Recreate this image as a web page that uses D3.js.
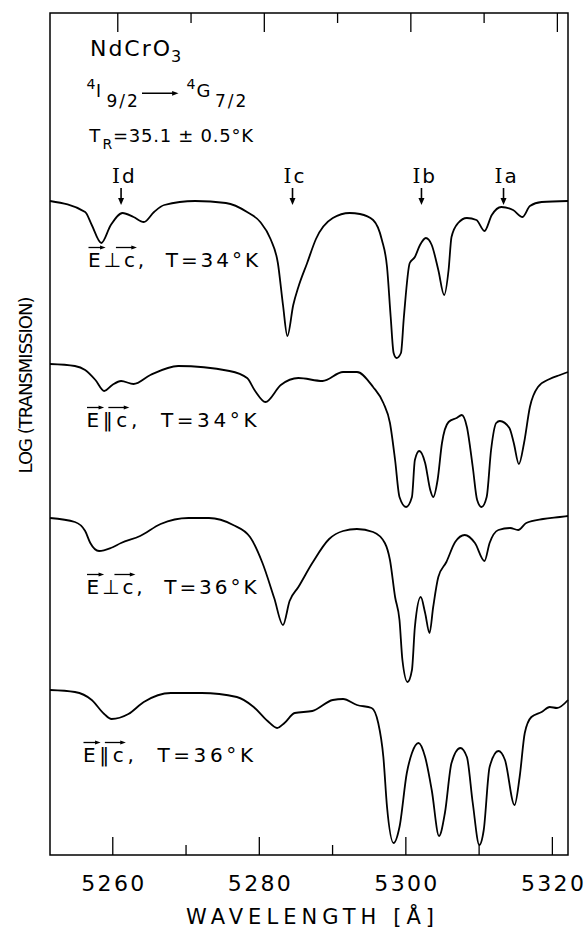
<html>
  <head>
    <style>
    body {
      margin: 0;
      background: #fff;
    }
    text {
      font-family: "DejaVu Sans", sans-serif;
      fill: #000;
    }
    .curve {
      fill: none;
      stroke: #000;
      stroke-width: 1.8;
      stroke-linejoin: round;
    }
    .tick line {
      stroke: #000;
      stroke-width: 1.3;
    }
    </style>
  </head>
  <body>
    <script src="https://d3js.org/d3.v7.min.js"></script>
    <script>
    var width = 584,
      height = 928;

    // wavelength axis (Angstrom)
    var majorTicks = [5260, 5280, 5300, 5320];
    var minorTicks = [5270, 5290, 5310];

    // E perp c, T = 34 K
    var wlPerp34 = [5251.5, 5256.3, 5257.2, 5258.5, 5259.8, 5261.4, 5262.9, 5264.3, 5265.7, 5267.1, 5271.3, 5275.5, 5278.4, 5280.2, 5281.6, 5282.6, 5283.3, 5283.9, 5284.7, 5285.4, 5286.6, 5287.8, 5290.1, 5292.4, 5293.8, 5295.6, 5296.8, 5297.5, 5298.0, 5298.4, 5298.8, 5299.4, 5299.8, 5300.6, 5301.3, 5302.0, 5302.8, 5303.6, 5304.5, 5305.3, 5305.9, 5306.3, 5307.2, 5308.4, 5309.7, 5310.8, 5311.8, 5313.1, 5314.7, 5316.0, 5317.0, 5318.6, 5322.2];
    var ltPerp34 = [65.4, 64.3, 63.0, 61.2, 63.0, 64.2, 63.8, 63.3, 64.3, 65.0, 65.4, 65.2, 64.3, 63.3, 61.6, 59.2, 55.0, 51.9, 55.0, 56.8, 59.2, 61.6, 63.7, 64.2, 64.1, 63.5, 61.5, 58.8, 53.8, 50.2, 49.7, 50.2, 53.8, 59.2, 59.8, 61.0, 61.7, 61.0, 58.5, 56.0, 58.5, 61.8, 63.2, 63.7, 63.5, 62.4, 64.0, 64.8, 64.5, 63.8, 64.9, 65.3, 65.4];

    // E par c, T = 34 K
    var wlPar34 = [5251.5, 5254.9, 5256.3, 5257.7, 5258.9, 5260.0, 5261.2, 5262.9, 5265.2, 5269.0, 5276.0, 5278.4, 5279.5, 5280.9, 5283.0, 5285.4, 5288.7, 5291.5, 5293.4, 5295.6, 5297.0, 5297.9, 5298.6, 5299.2, 5300.1, 5300.9, 5301.3, 5301.9, 5302.7, 5303.4, 5303.8, 5304.4, 5305.0, 5305.9, 5307.0, 5307.7, 5308.4, 5309.2, 5309.8, 5310.4, 5311.1, 5311.7, 5312.4, 5312.9, 5314.2, 5314.8, 5315.5, 5316.2, 5317.0, 5318.1, 5319.7, 5321.1, 5322.2];
    var ltPar34 = [49.1, 48.9, 48.5, 47.5, 46.4, 47.0, 47.4, 47.1, 48.0, 48.9, 48.4, 47.7, 46.4, 45.3, 47.0, 47.7, 47.4, 48.3, 48.3, 46.8, 45.2, 43.2, 39.5, 35.8, 34.8, 35.8, 39.5, 40.4, 39.2, 36.5, 35.8, 37.5, 41.2, 43.3, 43.7, 44.0, 42.8, 38.8, 35.5, 34.8, 35.8, 40.5, 43.2, 43.4, 42.7, 41.2, 39.1, 41.2, 44.8, 46.8, 47.6, 48.0, 48.3];

    // E perp c, T = 36 K
    var wlPerp36 = [5251.5, 5254.9, 5256.3, 5257.0, 5258.2, 5259.8, 5261.2, 5263.8, 5266.6, 5270.4, 5273.2, 5276.5, 5278.8, 5280.5, 5282.1, 5283.3, 5284.2, 5285.4, 5287.3, 5289.6, 5291.5, 5293.4, 5295.6, 5297.2, 5297.9, 5298.6, 5299.2, 5299.6, 5300.3, 5300.9, 5301.3, 5302.1, 5302.7, 5303.3, 5303.8, 5304.5, 5305.6, 5306.8, 5308.1, 5309.5, 5310.8, 5311.5, 5312.7, 5314.3, 5315.4, 5316.5, 5318.8, 5321.1, 5322.2];
    var ltPerp36 = [33.7, 33.3, 32.4, 31.2, 30.4, 30.7, 31.2, 31.9, 33.1, 33.7, 33.7, 33.0, 31.8, 29.2, 25.7, 23.0, 25.4, 26.8, 29.2, 31.6, 32.4, 32.6, 32.3, 31.2, 29.5, 25.8, 23.5, 19.5, 17.3, 18.5, 22.8, 25.8, 24.2, 22.2, 24.8, 27.8, 29.3, 31.3, 32.0, 31.2, 29.4, 31.2, 32.5, 32.7, 32.5, 33.2, 33.6, 33.8, 33.9];

    // E par c, T = 36 K
    var wlPar36 = [5251.5, 5254.9, 5257.2, 5258.9, 5259.9, 5262.2, 5264.3, 5268.0, 5272.2, 5277.0, 5279.3, 5281.2, 5282.5, 5283.5, 5284.9, 5287.3, 5290.1, 5291.5, 5293.4, 5295.4, 5296.3, 5297.0, 5297.5, 5298.4, 5299.2, 5300.2, 5300.9, 5301.8, 5302.7, 5303.6, 5304.6, 5305.4, 5306.3, 5307.5, 5308.4, 5309.2, 5310.1, 5310.7, 5311.5, 5312.7, 5313.6, 5314.9, 5315.6, 5316.3, 5317.2, 5318.6, 5319.7, 5320.7, 5322.2];
    var ltPar36 = [16.5, 16.3, 15.5, 14.1, 13.6, 14.1, 15.3, 16.2, 16.2, 15.8, 14.8, 13.4, 12.7, 13.2, 14.2, 14.4, 15.5, 15.6, 15.0, 14.7, 13.2, 9.8, 4.8, 1.2, 2.8, 8.2, 10.2, 11.2, 9.8, 6.5, 1.9, 4.2, 9.2, 10.7, 9.8, 5.2, 1.0, 2.5, 8.8, 10.4, 9.5, 5.0, 7.8, 12.2, 13.8, 14.3, 14.8, 14.7, 15.5];

    var polarisations = ["\u22a5", "\u2016", "\u22a5", "\u2016"];
    var temperatures = [34, 34, 36, 36];

    // line markers Id..Ia
    var markerNames = ["d", "c", "b", "a"];
    var markerWl = [5261.2, 5284.6, 5302.2, 5313.4];

    var spectra = [
      d3.zip(wlPerp34, ltPerp34),
      d3.zip(wlPar34, ltPar34),
      d3.zip(wlPerp36, ltPerp36),
      d3.zip(wlPar36, ltPar36)
    ];

    var svg = d3.select("body").append("svg")
        .attr("width", width)
        .attr("height", height);

    var x = d3.scaleLinear().domain([5251.5, 5322.2]).range([50, 568]);
    var y = d3.scaleLinear().domain([0, 84.2]).range([855, 13]);

    // frame
    svg.append("rect")
      .attr("x", x.range()[0]).attr("y", y.range()[1])
      .attr("width", x.range()[1] - x.range()[0])
      .attr("height", y.range()[0] - y.range()[1])
      .attr("fill", "none").attr("stroke", "#000").attr("stroke-width", 1.5);

    // axes, ticks pointing inward
    var gx = svg.append("g").attr("transform", "translate(0," + y.range()[0] + ")")
      .call(d3.axisBottom(x).tickValues(majorTicks).tickSizeInner(-18).tickSizeOuter(0)
        .tickPadding(20).tickFormat(d3.format("d")));
    gx.append("g")
      .call(d3.axisBottom(x).tickValues(minorTicks).tickSizeInner(-10).tickSizeOuter(0).tickFormat(""));
    gx.selectAll(".domain").remove();
    gx.selectAll("text")
      .attr("font-family", "DejaVu Sans")
      .attr("font-size", 22)
      .attr("textLength", 63)
      .attr("fill", "#000");

    // top ticks sit a few px right of the bottom ones in the scan
    var gt = svg.append("g").attr("transform", "translate(5," + y.range()[1] + ")")
      .call(d3.axisTop(x).tickValues(majorTicks).tickSizeInner(-19).tickSizeOuter(0).tickFormat(""));
    gt.append("g")
      .call(d3.axisTop(x).tickValues(minorTicks).tickSizeInner(-10).tickSizeOuter(0).tickFormat(""));
    gt.selectAll(".domain").remove();

    // axis titles
    svg.append("text")
      .attr("x", 310).attr("y", 924)
      .attr("text-anchor", "middle")
      .attr("font-size", 21)
      .attr("textLength", 248)
      .text("WAVELENGTH [\u00c5]");

    svg.append("text")
      .attr("transform", "translate(31.5,385) rotate(-90)")
      .attr("text-anchor", "middle")
      .attr("font-family", "Liberation Sans")
      .attr("font-size", 18)
      .attr("textLength", 177)
      .text("LOG (TRANSMISSION)");

    // spectra
    var line = d3.line()
      .x(function(d){ return x(d[0]); })
      .y(function(d){ return y(d[1]); })
      .curve(d3.curveMonotoneX);

    svg.selectAll(".curve")
      .data(spectra)
      .enter().append("path")
        .attr("class", "curve")
        .attr("d", line);

    function hArrow(x1, x2, yy, sw, head) {
      svg.append("line")
        .attr("x1", x1).attr("x2", x2 - head).attr("y1", yy).attr("y2", yy)
        .attr("stroke", "#000").attr("stroke-width", sw);
      svg.append("path")
        .attr("d", "M" + x2 + "," + yy + "L" + (x2 - head * 1.6) + "," + (yy - head * 0.6) +
          "L" + (x2 - head * 1.6) + "," + (yy + head * 0.6) + "Z")
        .attr("fill", "#000");
    }

    // spectrum labels with vector arrows
    var labelPos = [[88, 267], [86.5, 427], [86.5, 594], [83, 762]];
    spectra.forEach(function(s, i){
      var t = svg.append("text")
        .attr("x", labelPos[i][0]).attr("y", labelPos[i][1])
        .attr("font-size", 20)
        .style("white-space", "pre")
        .attr("textLength", 170)
        .text("E" + polarisations[i] + "c,  T=" + temperatures[i] + "\u00b0K");
      var node = t.node();
      var e = node.getExtentOfChar(0),
        c = node.getExtentOfChar(2);
      var ay = labelPos[i][1] - 19.5;
      hArrow(e.x + 0.5, e.x + e.width + 5, ay, 1.3, 3.5);
      hArrow(c.x - 8, c.x + c.width + 2, ay, 1.3, 3.5);
    });

    // Id, Ic, Ib, Ia markers
    markerWl.forEach(function(w, i){
      var mx = x(w);
      svg.append("line")
        .attr("x1", mx).attr("x2", mx).attr("y1", 188).attr("y2", 199)
        .attr("stroke", "#000").attr("stroke-width", 1.6);
      svg.append("path")
        .attr("d", "M" + mx + ",205L" + (mx - 3) + ",198L" + (mx + 3) + ",198Z")
        .attr("fill", "#000");
      var t = svg.append("text")
        .attr("x", mx - 9).attr("y", 182.5)
        .attr("font-size", 20);
      t.append("tspan").attr("font-family", "DejaVu Serif").text("I");
      t.append("tspan").attr("dx", 2).text(markerNames[i]);
    });

    // sample / transition annotation
    var t1 = svg.append("text").attr("x", 90).attr("y", 56).attr("font-size", 22);
    t1.append("tspan").attr("textLength", 80).text("NdCrO");
    t1.append("tspan").attr("x", 171).attr("y", 61.7).attr("font-size", 16).text("3");

    svg.append("text").attr("x", 86.5).attr("y", 89).attr("font-size", 14).text("4");
    svg.append("text").attr("x", 96).attr("y", 96.7).attr("font-size", 17)
      .attr("font-family", "DejaVu Serif").text("I");
    svg.append("text").attr("x", 106.5).attr("y", 106.7).attr("font-size", 17)
      .attr("letter-spacing", 2).text("9/2");
    hArrow(142, 178.5, 93.3, 1.6, 4);
    svg.append("text").attr("x", 186.5).attr("y", 89).attr("font-size", 14).text("4");
    svg.append("text").attr("x", 196.5).attr("y", 96.7).attr("font-size", 18).text("G");
    svg.append("text").attr("x", 215).attr("y", 106.7).attr("font-size", 17)
      .attr("letter-spacing", 2).text("7/2");

    svg.append("text").attr("x", 89.3).attr("y", 141.7).attr("font-size", 18).text("T");
    svg.append("text").attr("x", 102.5).attr("y", 149.3).attr("font-size", 14).text("R");
    svg.append("text").attr("x", 113).attr("y", 141.7).attr("font-size", 18)
      .style("white-space", "pre")
      .attr("textLength", 140).text("=35.1 \u00b1 0.5\u00b0K");
    </script>
  </body>
</html>
